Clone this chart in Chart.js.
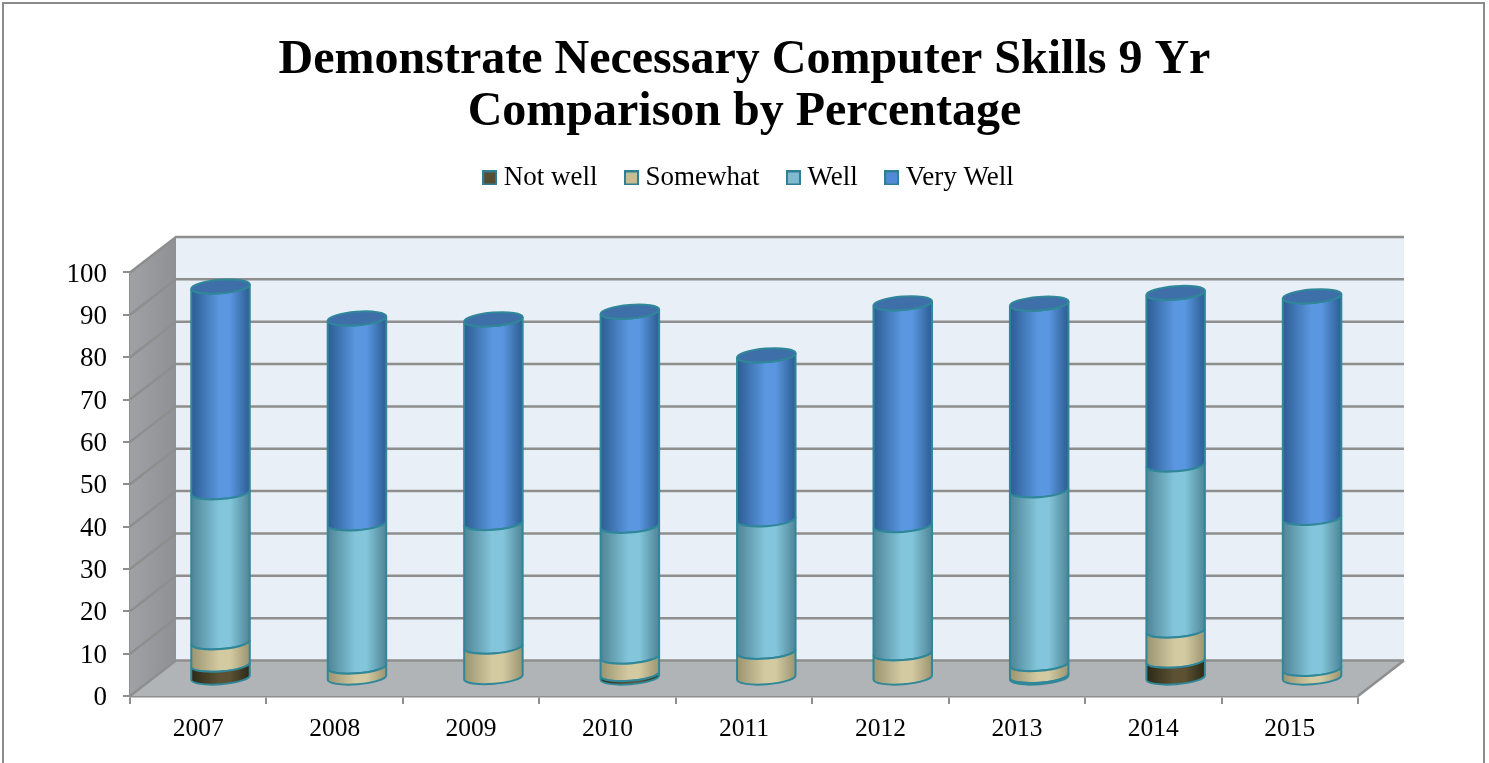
<!DOCTYPE html>
<html>
<head>
<meta charset="utf-8">
<title>Demonstrate Necessary Computer Skills</title>
<script src="https://cdn.jsdelivr.net/npm/chart.js@4/dist/chart.umd.js"></script>
<style>
  html, body { margin: 0; padding: 0; background: #fff; overflow: hidden; }
  #frame { position: absolute; left: 2px; top: 2px; width: 1479px; height: 800px; border: 2px solid #8c8c8c; }
  #skillsChart { position: absolute; left: 0; top: 0; }
</style>
</head>
<body>
<div id="frame"></div>
<canvas id="skillsChart" width="1489" height="763"></canvas>
<script>
const years = ["2007", "2008", "2009", "2010", "2011", "2012", "2013", "2014", "2015"];
const notWell = [3.25, 0, 0.35, 1.05, 0, 0, 0.6, 4.2, 0];
const somewhat = [5.3, 2.8, 7.15, 4.1, 6.3, 5.95, 2.8, 7.1, 2.25];
const well = [35.4, 33.8, 29.2, 30.9, 31.25, 30.25, 41, 39.2, 35.65];
const veryWell = [48.6, 48.4, 48.1, 50.55, 38.75, 52.4, 44.1, 40.55, 52.35];

const seriesNames = ["Not well", "Somewhat", "Well", "Very Well"];
const seriesValues = [notWell, somewhat, well, veryWell];
const midColors = ["#5c5233", "#d3caa1", "#83c6db", "#5a97e0"];
const edgeColors = ["#2c2917", "#9a9470", "#4f8496", "#2c5c92"];
const swatchColors = ["#574d33", "#c6bd94", "#7fbad0", "#5389d6"];
const capColor = "#3f6fa8";
const rimColor = "#2f8799";

// fake 3D: how far the back wall sits from the axes, and where the bars stand in between
const depthX = 46;
const depthY = -35.5;
const barShiftX = 22.3;
const barShiftY = -17.5;
const tilt = -0.078;
const capRatio = 0.23;

let currentSeries = 0;

// cylinders instead of flat bars
const BarElement = Chart.registry.getElement("bar");
BarElement.prototype.draw = function (ctx) {
  const { x, y, base, width } = this.getProps(["x", "y", "base", "width"]);
  if (Math.abs(base - y) < 0.5) return;
  const i = currentSeries;
  const cx = x + barShiftX;
  const rx = width / 2;
  const ry = rx * capRatio;
  const grad = ctx.createLinearGradient(cx - rx, 0, cx + rx, 0);
  grad.addColorStop(0, edgeColors[i]);
  grad.addColorStop(0.48, midColors[i]);
  grad.addColorStop(0.66, midColors[i]);
  grad.addColorStop(1, edgeColors[i]);
  const topY = y + barShiftY;
  const botY = base + barShiftY;

  ctx.save();
  ctx.beginPath();
  // both ends follow the front arc, so stacked pieces fit whatever the draw order
  ctx.ellipse(cx, topY, rx, ry, tilt, Math.PI, 0, true);
  ctx.ellipse(cx, botY, rx, ry, tilt, 0, Math.PI);
  ctx.closePath();
  ctx.fillStyle = grad;
  ctx.fill();
  ctx.strokeStyle = rimColor;
  ctx.lineWidth = 2;
  ctx.stroke();
  if (i === seriesValues.length - 1) {
    ctx.beginPath();
    ctx.ellipse(cx, topY, rx, ry, tilt, 0, 2 * Math.PI);
    ctx.fillStyle = capColor;
    ctx.fill();
    ctx.stroke();
  }
  ctx.restore();
};

// walls, floor and the gridlines running around them
const wallsPlugin = {
  id: "walls",
  beforeInit(chart) {
    // leave room under the legend for the top of the back wall
    const fit = chart.legend.fit;
    chart.legend.fit = function () {
      fit.call(this);
      this.height += 71;
    };
    // the legend sits a little right of centre in the original
    const draw = chart.legend.draw;
    chart.legend.draw = function (...args) {
      chart.ctx.save();
      chart.ctx.translate(7, 0);
      draw.apply(this, args);
      chart.ctx.restore();
    };
  },
  beforeDatasetDraw(chart, args) {
    currentSeries = args.index;
  },
  beforeDatasetsDraw(chart) {
    const { ctx, chartArea, scales } = chart;
    const { left, right, top, bottom } = chartArea;

    function poly(points, fill) {
      ctx.beginPath();
      points.forEach((p, n) => (n ? ctx.lineTo(p[0], p[1]) : ctx.moveTo(p[0], p[1])));
      ctx.closePath();
      ctx.fillStyle = fill;
      ctx.fill();
    }

    ctx.save();
    poly([[left + depthX, top + depthY], [right + depthX, top + depthY], [right + depthX, bottom + depthY], [left + depthX, bottom + depthY]], "#e8eff6");
    const wall = ctx.createLinearGradient(left, 0, left + depthX, 0);
    wall.addColorStop(0, "#9fa1a5");
    wall.addColorStop(1, "#8f9093");
    poly([[left, top], [left + depthX, top + depthY], [left + depthX, bottom + depthY], [left, bottom]], wall);
    poly([[left, bottom], [right, bottom], [right + depthX, bottom + depthY], [left + depthX, bottom + depthY]], "#b1b4b7");

    ctx.strokeStyle = "#8e8e8e";
    ctx.lineWidth = 2.5;
    scales.y.ticks.forEach(t => {
      const py = scales.y.getPixelForValue(t.value);
      ctx.beginPath();
      ctx.moveTo(left, py);
      ctx.lineTo(left + depthX, py + depthY);
      ctx.lineTo(right + depthX, py + depthY);
      ctx.stroke();
    });
    ctx.beginPath();
    ctx.moveTo(right, bottom);
    ctx.lineTo(right + depthX, bottom + depthY);
    ctx.stroke();
    ctx.restore();
  },
};

function makeSwatch(color) {
  const c = document.createElement("canvas");
  c.width = 15;
  c.height = 15;
  const g = c.getContext("2d");
  g.fillStyle = color;
  g.fillRect(0, 0, 15, 15);
  g.strokeStyle = "#2f7f95";
  g.lineWidth = 2;
  g.strokeRect(1, 1, 13, 13);
  return c;
}

new Chart(document.getElementById("skillsChart"), {
  type: "bar",
  data: {
    labels: years,
    datasets: seriesNames.map((name, i) => ({
      label: name,
      data: seriesValues[i],
      backgroundColor: midColors[i],
      clip: false,
      barPercentage: 0.43,
      categoryPercentage: 1,
    })),
  },
  options: {
    responsive: false,
    animation: false,
    plugins: {
      title: {
        display: true,
        text: ["Demonstrate Necessary Computer Skills 9 Yr", "Comparison by Percentage"],
        color: "#000",
        font: { family: "'Liberation Serif'", size: 48, weight: "bold", lineHeight: 1.083 },
        padding: { top: 35, bottom: -8 },
      },
      legend: {
        position: "top",
        labels: {
          usePointStyle: true,
          pointStyleWidth: 1,
          color: "#000",
          font: { family: "'Liberation Serif'", size: 27 },
          padding: 33.5,
          generateLabels: () =>
            seriesNames.map((name, i) => ({
              text: name,
              pointStyle: makeSwatch(swatchColors[i]),
              datasetIndex: i,
              hidden: false,
            })),
        },
      },
      tooltip: { enabled: false },
    },
    scales: {
      x: {
        stacked: true,
        afterFit(scale) { scale.height = 67; },
        grid: { drawOnChartArea: false, tickLength: 8, color: "#8e8e8e", lineWidth: 2 },
        border: { color: "#8e8e8e", width: 2.5 },
        ticks: { color: "#000", font: { family: "'Liberation Serif'", size: 25.5 }, padding: 10, maxRotation: 0 },
      },
      y: {
        stacked: true,
        min: 0,
        max: 100,
        afterFit(scale) { scale.width = 130; },
        grid: { drawOnChartArea: false, tickLength: 7, color: "#8e8e8e", lineWidth: 2 },
        border: { color: "#8e8e8e", width: 2 },
        ticks: { stepSize: 10, color: "#000", font: { family: "'Liberation Serif'", size: 27 }, padding: 16, labelOffset: 2 },
      },
      // empty axis, only keeps the plot clear of the right margin
      spacer: {
        position: "right",
        afterFit(scale) { scale.width = 131; },
        grid: { display: false },
        border: { display: false },
        ticks: { display: false },
      },
    },
  },
  plugins: [wallsPlugin],
});
</script>
</body>
</html>
